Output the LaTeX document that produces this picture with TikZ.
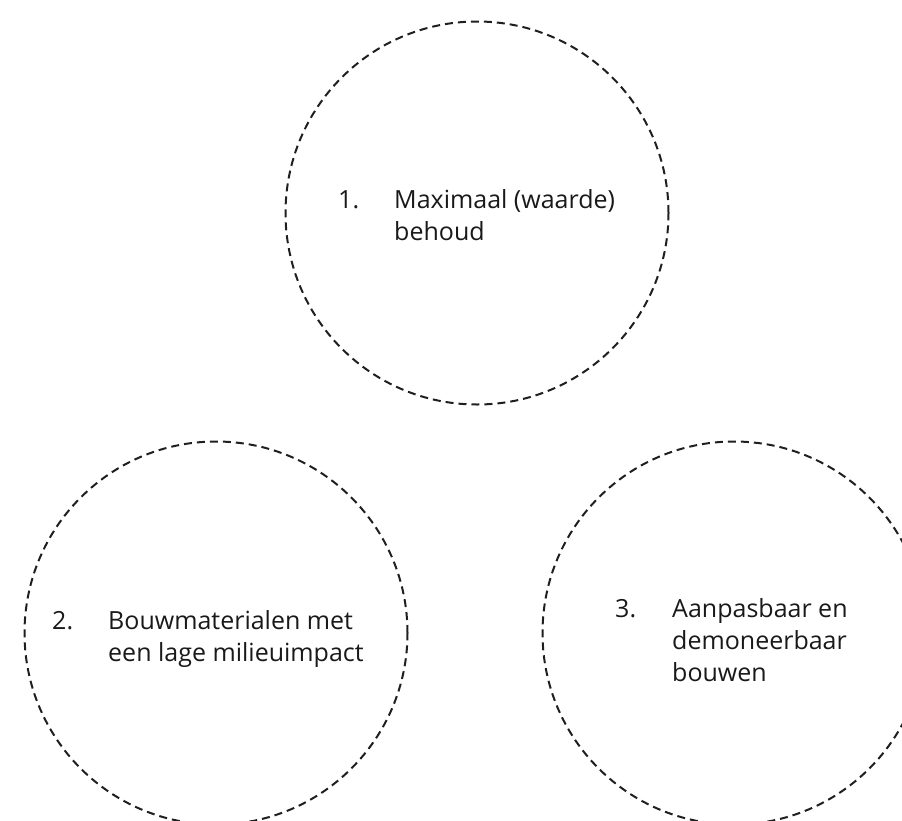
\documentclass[tikz,border=0pt]{standalone}
\usepackage{fontspec}
\setmainfont{Open Sans}
\usetikzlibrary{positioning}
\tikzset{
  ring/.style={circle,draw=black!88,line width=2pt,dash pattern=on 8pt off 5pt,minimum size=383pt,inner sep=0pt},
  nummer/.style={anchor=base west,inner sep=0pt,text=black!90,font=\fontsize{25}{32}\selectfont},
  tekst/.style={anchor=base west,inner sep=0pt,align=left,text=black!90,font=\fontsize{25}{32}\selectfont}
}

\begin{document}
\begin{tikzpicture}[x=1pt,y=-1pt]
  \useasboundingbox (0,0) rectangle (902,820);
  % de drie cirkels
  \node[ring] (behoud) at (477,213) {};
  \node[ring] (materialen) at (216,633) {};
  \node[ring] (bouwen) at (734,633) {};
  % nummers en teksten (base = laatste regel)
  \node[nummer] (n1) at (338,208) {1.};
  \node[tekst] (t1) at ([xshift=56pt,yshift=-32pt]n1.base west) {Maximaal (waarde)\\behoud};
  \node[nummer] (n2) at (52,629) {2.};
  \node[tekst] (t2) at ([xshift=56pt,yshift=-32pt]n2.base west) {Bouwmaterialen met\\een lage milieuimpact};
  \node[nummer] (n3) at (615,617) {3.};
  \node[tekst] (t3) at ([xshift=57pt,yshift=-64pt]n3.base west) {Aanpasbaar en\\demoneerbaar\\bouwen};
\end{tikzpicture}
\end{document}
